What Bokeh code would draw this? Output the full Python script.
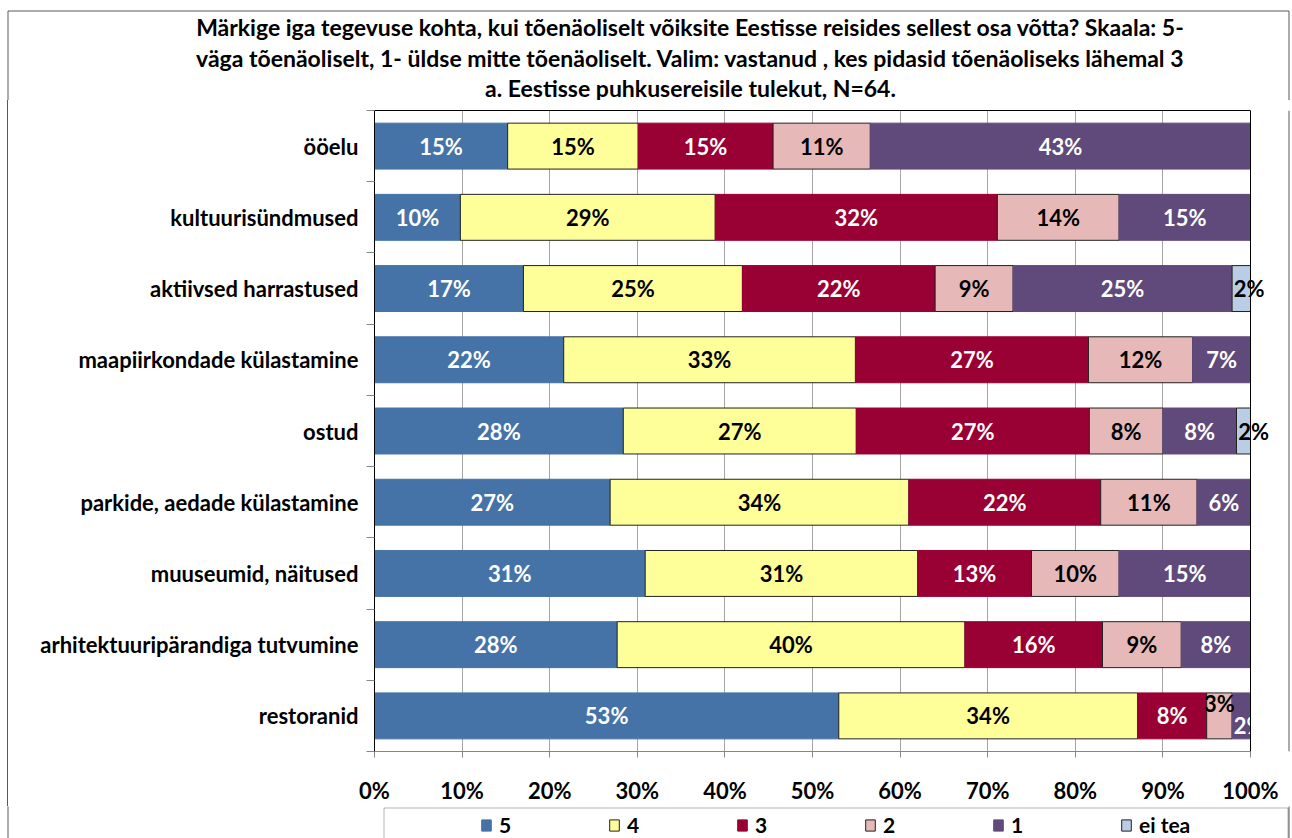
from bokeh.plotting import figure
from bokeh.models import (ColumnDataSource, Legend, LegendItem, LabelSet, LinearAxis,
                          Range1d, FixedTicker, BoxAnnotation, Span)
from bokeh.core.properties import value
from bokeh.embed import file_html
from bokeh.resources import INLINE

# ---------------- data ----------------
categories = ["ööelu", "kultuurisündmused", "aktiivsed harrastused",
              "maapiirkondade külastamine", "ostud", "parkide, aedade külastamine",
              "muuseumid, näitused", "arhitektuuripärandiga tutvumine", "restoranid"]
series = ["5", "4", "3", "2", "1", "ei tea"]
v5 = [15.2, 9.8, 17.0, 21.6, 28.4, 26.9, 30.9, 27.7, 53.0]
v4 = [14.9, 29.1, 25.0, 33.3, 26.6, 34.1, 31.1, 39.7, 34.1]
v3 = [15.4, 32.2, 22.0, 26.6, 26.6, 21.9, 13.0, 15.7, 7.9]
v2 = [11.1, 13.9, 8.9, 11.9, 8.4, 11.0, 10.0, 9.0, 2.9]
v1 = [43.4, 15.0, 25.0, 6.6, 8.4, 6.1, 15.0, 7.9, 2.1]
vx = [0.0, 0.0, 2.1, 0.0, 1.6, 0.0, 0.0, 0.0, 0.0]
values = [v5, v4, v3, v2, v1, vx]
xticks = list(range(0, 101, 10))
title_lines = [
    "Märkige iga tegevuse kohta, kui tõenäoliselt võiksite Eestisse reisides sellest osa võtta? Skaala: 5-",
    "väga tõenäoliselt, 1- üldse mitte tõenäoliselt. Valim: vastanud , kes pidasid tõenäoliseks lähemal 3",
    "a. Eestisse puhkusereisile tulekut, N=64.",
]

# ---------------- style ----------------
fills = ["#4573A7", "#FFFF99", "#990033", "#E6B9B8", "#604A7B", "#B9CDE5"]
edges = ["#4573A7", "#202020", "#990033", "#202020", "#604A7B", "#202020"]
tcols = ["white", "black", "white", "black", "white", "black"]
FONT = "Lato"
W = 1292
OUTER = "#595959"
AXGREY = "#868686"
BL, BR, BT = 7.5, 1288.5, 10.5   # outer chart border


def strip(height, y0):
    f = figure(width=W, height=height, output_backend="svg", toolbar_location=None,
               x_range=Range1d(0, W), y_range=Range1d(y0 + height, y0),
               x_axis_location=None, y_axis_location=None,
               min_border=0, min_border_left=0, min_border_right=0,
               min_border_top=0, min_border_bottom=0, title=None)
    f.grid.visible = False
    f.outline_line_color = None
    f.border_fill_color = "white"
    return f


# ---------------- title strip ----------------
TH = 100
tf = strip(TH, 0)
tf.segment(x0=[BL, BL, BR], y0=[BT, BT, BT], x1=[BR, BL, BR], y1=[BT, TH + 5, TH + 5],
           line_color=OUTER, line_width=1)
tf.text(x=[690, 690, 690], y=[26, 57, 87], text=title_lines,
        text_align="center", text_baseline="middle", text_color="black",
        text_font=value(FONT), text_font_style="bold", text_font_size="23px")

# ---------------- main chart ----------------
n = len(categories)
ypos = [n - 0.5 - i for i in range(n)]
MH = 706
LEFT, PX_PER_PCT = 374, 8.76
FRAME_H = 642
px_row = FRAME_H / n
xmax = (W - LEFT) / PX_PER_PCT
p = figure(width=W, height=MH, output_backend="svg", toolbar_location=None,
           x_range=Range1d(0, xmax), y_range=Range1d(0, n),
           min_border_left=LEFT, min_border_right=0, min_border_top=10,
           min_border_bottom=MH - 10 - FRAME_H, title=None)
p.background_fill_color = "white"
p.border_fill_color = None
p.outline_line_color = None
p.styles = {"box-shadow": "inset 7px 0 0 0 white, inset 8px 0 0 0 #595959"}

data = dict(y=ypos)
for s, v in zip(series, values):
    data[s] = v
src = ColumnDataSource(data)
p.hbar_stack(series, y="y", height=0.645, fill_color=fills, line_color=edges,
             line_width=1, source=src)

for j, s in enumerate(series):
    xs, ys, ts, aligns = [], [], [], []
    for i in range(n):
        v = values[j][i]
        if v <= 0:
            continue
        left = sum(values[k][i] for k in range(j))
        rest = sum(values[k][i] for k in range(j + 1, len(values)))
        nxt = values[j + 1][i] if j + 1 < len(values) else 0
        prv = values[j - 1][i] if j > 0 else 99
        if v < 5 and rest <= 0:
            xs.append(left + 0.2)
            aligns.append("left")
        else:
            xs.append(left + v / 2)
            aligns.append("center")
        if v < 5 and 0 < nxt < 5:
            dy = 12
        elif v < 5 and prv < 5:
            dy = -10
        else:
            dy = 0
        ys.append(ypos[i] + dy / px_row)
        ts.append(f"{round(v)}%")
    for al in ("left", "center"):
        idx = [k for k, a in enumerate(aligns) if a == al]
        if not idx:
            continue
        p.add_layout(LabelSet(
            x="x", y="y", text="t",
            source=ColumnDataSource(dict(x=[xs[k] for k in idx], y=[ys[k] for k in idx],
                                         t=[ts[k] for k in idx])),
            text_align=al, text_baseline="middle", text_color=tcols[j],
            text_font=value(FONT), text_font_style="bold", text_font_size="22px"))

p.xgrid.ticker = FixedTicker(ticks=xticks)
p.xgrid.grid_line_color = "#A6A6A6"
p.ygrid.grid_line_color = None

xaxis = p.below[0]
xaxis.ticker = FixedTicker(ticks=xticks)
xaxis.bounds = (0, 100)
xaxis.major_label_overrides = {t: f"{t}%" for t in xticks}
xaxis.axis_line_color = AXGREY
xaxis.major_tick_line_color = AXGREY
xaxis.major_tick_out = 6
xaxis.major_tick_in = 0
xaxis.minor_tick_line_color = None
xaxis.major_label_text_font = FONT
xaxis.major_label_text_font_style = "bold"
xaxis.major_label_text_font_size = "22px"
xaxis.major_label_text_color = "black"
xaxis.major_label_standoff = 19

yaxis = p.left[0]
yaxis.ticker = FixedTicker(ticks=ypos, minor_ticks=list(range(n + 1)))
yaxis.major_label_overrides = {y: c for y, c in zip(ypos, categories)}
yaxis.axis_line_color = "black"
yaxis.major_tick_line_color = None
yaxis.major_tick_out = 0
yaxis.major_tick_in = 0
yaxis.minor_tick_line_color = AXGREY
yaxis.minor_tick_out = 8
yaxis.minor_tick_in = 0
yaxis.major_label_text_font = FONT
yaxis.major_label_text_font_style = "bold"
yaxis.major_label_text_font_size = "22px"
yaxis.major_label_text_color = "black"
yaxis.major_label_standoff = 8

# frame border: right at 100 %, top via an unlabeled axis; outer chart border line
p.add_layout(Span(location=100, dimension="height", line_color="black", line_width=1))
p.add_layout(Span(location=(BR - LEFT) / PX_PER_PCT, dimension="height",
                  line_color=OUTER, line_width=1))
top_axis = LinearAxis(ticker=FixedTicker(ticks=[]), bounds=(0, 100),
                      axis_line_color="black", major_tick_line_color=None,
                      minor_tick_line_color=None, major_label_text_font_size="0px",
                      major_label_standoff=0, major_tick_out=0, major_tick_in=0)
p.add_layout(top_axis, "above")

# ---------------- legend strip ----------------
Y0 = TH + MH
LH = 838 - Y0
lf = strip(LH, Y0)
lf.segment(x0=[BL, BR], y0=[Y0 - 5, Y0 - 5], x1=[BL, BR], y1=[Y0 + LH + 5, Y0 + LH + 5],
           line_color=OUTER, line_width=1)
lf.add_layout(BoxAnnotation(left=383.5, right=1287.5, top=Y0 + 1.5, bottom=Y0 + LH + 50,
                            fill_color="white", fill_alpha=1, line_color="black",
                            line_width=1))
dummies = [lf.rect(x=[-1000], y=[-1000], width=1, height=1, fill_color=f, line_color=e)
           for f, e in zip(fills, edges)]
legend = Legend(items=[LegendItem(label=s, renderers=[r]) for s, r in zip(series, dummies)],
                orientation="horizontal", location=(480, 1), padding=0, margin=0,
                spacing=0, glyph_width=12, glyph_height=14, label_standoff=7,
                label_width=109, label_height=22, border_line_color=None,
                background_fill_alpha=0, label_text_font=FONT, label_text_color="black",
                label_text_font_style="bold", label_text_font_size="21px")
lf.add_layout(legend, "center")

open("out.html", "w").write(file_html([tf, p, lf], INLINE))
